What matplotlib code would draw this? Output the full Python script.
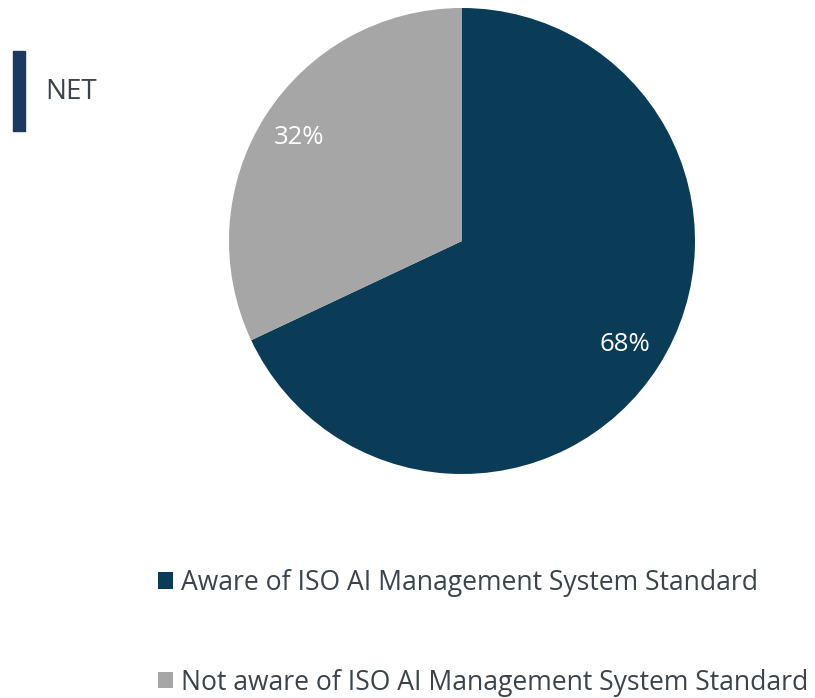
import matplotlib.pyplot as plt
from matplotlib.patches import Rectangle

labels = ['Aware of ISO AI Management System Standard', 'Not aware of ISO AI Management System Standard']
values = [68, 32]
colors = ['#0b3c57', '#a6a6a6']
title = 'NET'

plt.rcParams['font.family'] = ['Open Sans', 'DejaVu Sans']
W, H = 815, 698
fig = plt.figure(figsize=(W / 100, H / 100), dpi=100)

# pie axes, placed in pixels
cx, cy, r = 462, 241, 233
ax = fig.add_axes([(cx - r) / W, 1 - (cy + r) / H, 2 * r / W, 2 * r / H])
wedges, texts, autotexts = ax.pie(values, colors=colors, startangle=90, counterclock=False,
                                  autopct='%d%%', pctdistance=0.83, radius=1,
                                  textprops=dict(color='white', fontsize=18.5))
ax.set_xlim(-1, 1)
ax.set_ylim(-1, 1)
ax.set_aspect('equal')
ax.axis('off')

# NET marker
fig.patches.append(Rectangle((13 / W, 1 - 131 / H), 12 / W, 80 / H, transform=fig.transFigure,
                             color='#1b3a60'))
fig.text(45 / W, 1 - 92 / H, title, fontsize=20, color='#3b434c', va='center', ha='left')

leg = fig.legend(wedges, labels, loc='upper left', bbox_to_anchor=(158 / W, 1 - 569 / H),
                 frameon=False, fontsize=19.1, labelcolor='#3b434c', handlelength=0.57,
                 handleheight=0.57, handletextpad=0.3, labelspacing=2.7,
                 borderpad=0, borderaxespad=0)

fig.savefig('out.png', dpi=100)
